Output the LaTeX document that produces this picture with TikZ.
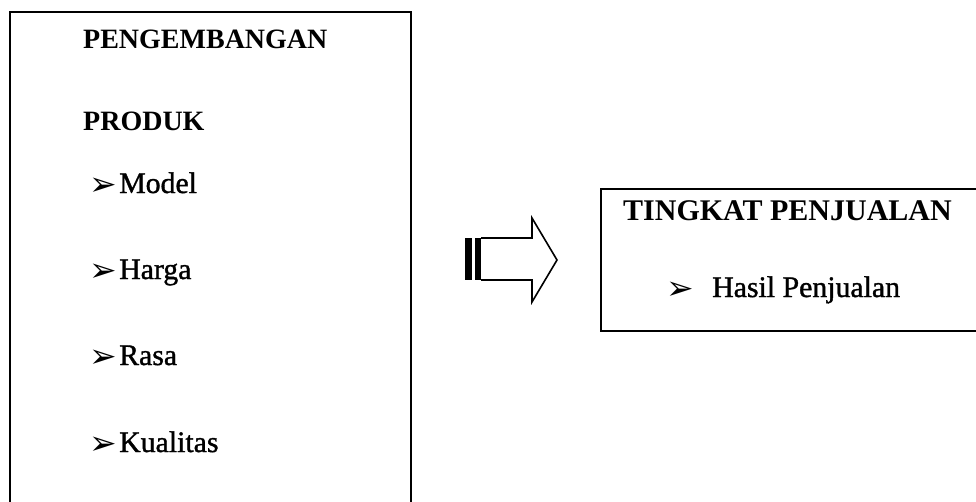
\documentclass[tikz,border=0pt]{standalone}
\usepackage{fontspec}
\setmainfont{Liberation Serif}
\newfontfamily\symfont{DejaVu Sans}
\newfontfamily\itemfont[FakeBold=1.2]{Liberation Serif}
\begin{document}
\begin{tikzpicture}[x=1pt,y=-1pt,
  frame/.style={draw=black,line width=2.4pt},
  head/.style={anchor=base west,inner sep=0pt,font=\fontsize{28}{30}\selectfont\bfseries},
  item/.style={anchor=base west,inner sep=0pt,font=\fontsize{29.8}{32}\itemfont},
  bul/.style={anchor=base west,inner sep=0pt,font=\fontsize{33}{35}\symfont}]
\useasboundingbox (0,0) rectangle (976,501);
\begin{scope}
\clip (0,0) rectangle (976,501);
% left box (bottom runs off the page)
\draw[frame] (10,12) rectangle (411,530);
% right box (right edge runs off the page)
\draw[frame] (601,189) rectangle (1000,331);
\end{scope}
% left box texts
\node[head] (t1) at (83,48) {PENGEMBANGAN};
\node[head] (t2) at (83,130) {PRODUK};
\node[bul] (b1) at (89,195) {➢};
\node[item] (i1) at (119,193) {Model};
\node[bul] (b2) at (89,281) {➢};
\node[item] (i2) at (119,279) {Harga};
\node[bul] (b3) at (89,367) {➢};
\node[item] (i3) at (119,365) {Rasa};
\node[bul] (b4) at (89,454) {➢};
\node[item] (i4) at (119,452) {Kualitas};
% right box texts
\node[head,font=\fontsize{30}{32}\selectfont\bfseries] (t3) at (623,220) {TINGKAT PENJUALAN};
\node[bul] (b5) at (666,299) {➢};
\node[item] (i5) at (712,297) {Hasil Penjualan};
% block arrow
\fill (465,238) rectangle (472,280);
\fill (475,238) rectangle (481,280);
\draw[line width=1.6pt,line join=miter] (481,238) -- (532,238) -- (532,218) -- (557,260) -- (532,302) -- (532,280) -- (481,280);
\end{tikzpicture}
\end{document}
